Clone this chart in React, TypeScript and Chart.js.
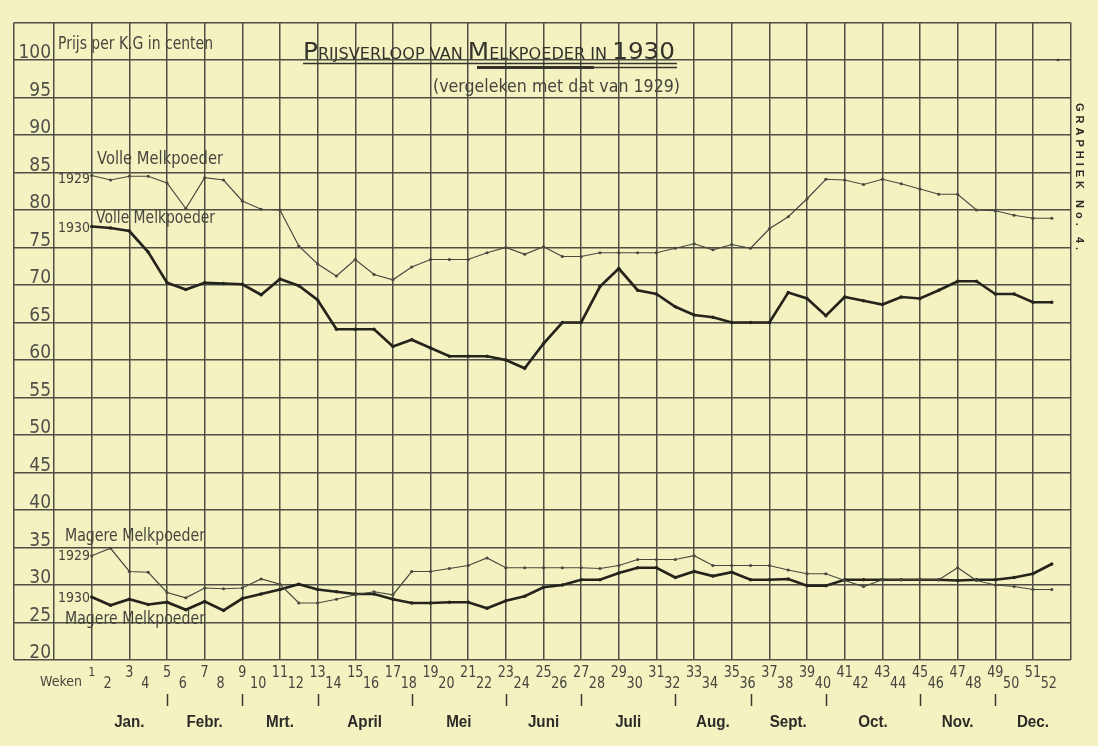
import React, { useEffect, useRef } from "react";
import { Chart, registerables } from "chart.js";

Chart.register(...registerables);

// ---- data ----
const weeks = [
  1, 2, 3, 4, 5, 6, 7, 8, 9, 10, 11, 12, 13, 14, 15, 16, 17, 18, 19, 20, 21, 22, 23, 24, 25, 26,
  27, 28, 29, 30, 31, 32, 33, 34, 35, 36, 37, 38, 39, 40, 41, 42, 43, 44, 45, 46, 47, 48, 49, 50, 51, 52,
];

const volle1929 = [
  84.6, 84.0, 84.5, 84.5, 83.6, 80.2, 84.3, 84.0, 81.2, 80.1,
  80.0, 75.2, 72.8, 71.2, 73.4, 71.4, 70.7, 72.4, 73.4, 73.4,
  73.4, 74.3, 75.0, 74.1, 75.1, 73.8, 73.8, 74.3, 74.3, 74.3,
  74.3, 74.9, 75.5, 74.7, 75.4, 74.9, 77.5, 79.1, 81.5, 84.1,
  84.0, 83.4, 84.1, 83.5, 82.8, 82.1, 82.1, 80.0, 79.9, 79.3,
  78.9, 78.9,
];

const volle1930 = [
  77.8, 77.6, 77.2, 74.4, 70.3, 69.4, 70.3, 70.2, 70.1, 68.7,
  70.8, 69.9, 68.0, 64.1, 64.1, 64.1, 61.8, 62.7, 61.6, 60.5,
  60.5, 60.5, 60.0, 58.9, 62.2, 65.0, 65.0, 69.8, 72.2, 69.3,
  68.8, 67.1, 66.0, 65.7, 65.0, 65.0, 65.0, 69.0, 68.2, 65.9,
  68.4, 67.9, 67.4, 68.4, 68.2, 69.3, 70.5, 70.5, 68.8, 68.8,
  67.7, 67.7,
];

const magere1929 = [
  33.9, 34.9, 31.8, 31.7, 29.0, 28.3, 29.6, 29.5, 29.6, 30.8,
  30.1, 27.6, 27.6, 28.1, 28.7, 29.1, 28.7, 31.8, 31.8, 32.2,
  32.6, 33.6, 32.3, 32.3, 32.3, 32.3, 32.3, 32.2, 32.6, 33.4,
  33.4, 33.4, 33.9, 32.6, 32.6, 32.6, 32.6, 32.0, 31.5, 31.5,
  30.6, 29.8, 30.7, 30.7, 30.7, 30.7, 32.3, 30.6, 30.0, 29.8,
  29.4, 29.4,
];

const magere1930 = [
  28.4, 27.3, 28.1, 27.4, 27.7, 26.7, 27.8, 26.6, 28.2, 28.8,
  29.4, 30.1, 29.4, 29.1, 28.8, 28.8, 28.1, 27.6, 27.6, 27.7,
  27.7, 26.9, 27.9, 28.5, 29.7, 30.0, 30.7, 30.7, 31.6, 32.3,
  32.3, 31.0, 31.8, 31.2, 31.7, 30.7, 30.7, 30.8, 29.9, 29.9,
  30.7, 30.7, 30.7, 30.7, 30.7, 30.7, 30.6, 30.7, 30.7, 31.0,
  31.5, 32.8,
];

const yTickLabels = ["20", "25", "30", "35", "40", "45", "50", "55", "60", "65", "70", "75", "80", "85", "90", "95", "100"];
const monthLabels = ["Jan.", "Febr.", "Mrt.", "April", "Mei", "Juni", "Juli", "Aug.", "Sept.", "Oct.", "Nov.", "Dec."];
const monthStartWeeks = [1, 5, 9, 13, 18, 23, 27, 32, 36, 40, 45, 49, 53];

// ---- styling ----
const PAPER = "#f5f2c2";
const GRID = "#4e4e44";
const INK = "#45453d";
const HAND = "DejaVu Sans";

type Ctx = CanvasRenderingContext2D;

function fitText(ctx: Ctx, s: string, x: number, y: number, w: number, size: number, color = INK, weight = "normal", family = HAND) {
  ctx.save();
  ctx.font = `${weight} ${size}px "${family}"`;
  const m = ctx.measureText(s).width;
  const sx = w / m;
  ctx.translate(x, y);
  ctx.scale(sx, 1);
  ctx.textAlign = "left";
  ctx.textBaseline = "middle";
  ctx.fillStyle = color;
  ctx.fillText(s, 0, 0);
  ctx.restore();
}

function scaledText(ctx: Ctx, s: string, x: number, y: number, size: number, sx: number, align: CanvasTextAlign, baseline: CanvasTextBaseline, color = INK, weight = "normal", family = HAND) {
  ctx.save();
  ctx.translate(x, y);
  ctx.scale(sx, 1);
  ctx.font = `${weight} ${size}px "${family}"`;
  ctx.textAlign = align;
  ctx.textBaseline = baseline;
  ctx.fillStyle = color;
  ctx.fillText(s, 0, 0);
  ctx.restore();
}

function drawSmallCaps(ctx: Ctx, parts: { t: string; s: number }[], x: number, baseline: number, w: number) {
  ctx.save();
  let total = 0;
  for (const p of parts) {
    ctx.font = `${p.s}px "${HAND}"`;
    total += ctx.measureText(p.t).width;
  }
  const sx = w / total;
  ctx.translate(x, baseline);
  ctx.scale(sx, 1);
  ctx.textBaseline = "alphabetic";
  ctx.textAlign = "left";
  ctx.fillStyle = "#33332b";
  let cx = 0;
  for (const p of parts) {
    ctx.font = `${p.s}px "${HAND}"`;
    ctx.fillText(p.t, cx, 0);
    cx += ctx.measureText(p.t).width;
  }
  ctx.restore();
}

const paperPlugin = {
  id: "paper",
  beforeDraw(chart: any) {
    const ctx: Ctx = chart.ctx;
    ctx.save();
    ctx.fillStyle = PAPER;
    ctx.fillRect(0, 0, chart.width, chart.height);
    ctx.restore();
  },
};

const annotPlugin = {
  id: "annot",
  afterDraw(chart: any) {
    const ctx: Ctx = chart.ctx;
    const xs = chart.scales.x;
    const ys = chart.scales.y;

    // y-axis labels, sitting just above their grid lines
    yTickLabels.forEach((lab) => {
      const py = ys.getPixelForValue(Number(lab));
      scaledText(ctx, lab, xs.getPixelForValue(-1) - 3, py - 2, 19, 0.9, "right", "alphabetic", "#50504a");
    });

    // heading texts
    fitText(ctx, "Prijs per K.G in centen", 58, 45, 155, 17);
    drawSmallCaps(
      ctx,
      [
        { t: "P", s: 23 },
        { t: "RIJSVERLOOP VAN ", s: 15 },
        { t: "M", s: 23 },
        { t: "ELKPOEDER IN ", s: 15 },
        { t: "1930", s: 23 },
      ],
      303,
      59,
      372
    );
    ctx.save();
    ctx.strokeStyle = "#33332b";
    ctx.lineWidth = 1.5;
    ctx.beginPath();
    ctx.moveTo(303, 63.5);
    ctx.lineTo(677, 63.5);
    ctx.moveTo(593, 67.5);
    ctx.lineTo(677, 67.5);
    ctx.stroke();
    ctx.lineWidth = 3;
    ctx.beginPath();
    ctx.moveTo(477, 67.5);
    ctx.lineTo(594, 67.5);
    ctx.stroke();
    ctx.restore();
    fitText(ctx, "(vergeleken met dat van 1929)", 433, 88, 247, 17);

    // series labels
    fitText(ctx, "Volle Melkpoeder", 97, 160, 126, 17);
    fitText(ctx, "1929", 58, 179, 32, 14);
    fitText(ctx, "Volle Melkpoeder", 96, 219, 119, 17);
    fitText(ctx, "1930", 58, 228, 32, 14);
    fitText(ctx, "Magere Melkpoeder", 65, 537, 140, 17);
    fitText(ctx, "1929", 58, 556, 32, 14);
    fitText(ctx, "1930", 58, 598, 32, 14);
    fitText(ctx, "Magere Melkpoeder", 65, 620, 140, 17);

    // week numbers
    fitText(ctx, "Weken", 40, 682, 42, 14);
    weeks.forEach((w) => {
      const px = xs.getPixelForValue(w);
      if (w % 2 === 1) {
        const s = w === 1 ? 13 : 15;
        scaledText(ctx, String(w), px, 673, s, 0.85, "center", "middle");
      } else {
        scaledText(ctx, String(w), px - 3, 684, 15, 0.85, "center", "middle");
      }
    });

    // month separators and labels
    ctx.save();
    ctx.strokeStyle = "#3a3a33";
    ctx.lineWidth = 1.5;
    for (let i = 1; i < monthStartWeeks.length - 1; i++) {
      const px = Math.round(xs.getPixelForValue(monthStartWeeks[i])) + 0.5;
      ctx.beginPath();
      ctx.moveTo(px, 694);
      ctx.lineTo(px, 706);
      ctx.stroke();
    }
    ctx.restore();
    monthLabels.forEach((m, i) => {
      const mid = (monthStartWeeks[i] + monthStartWeeks[i + 1]) / 2;
      scaledText(ctx, m, xs.getPixelForValue(mid), 723, 16, 0.95, "center", "middle", "#2b2b27", "bold", "Liberation Sans");
    });

    // side caption
    ctx.save();
    ctx.translate(1079, 103);
    ctx.rotate(Math.PI / 2);
    ctx.font = `bold 11px "Liberation Sans"`;
    (ctx as any).letterSpacing = "4px";
    ctx.fillStyle = "#2b2b27";
    ctx.textBaseline = "middle";
    ctx.textAlign = "left";
    ctx.fillText("GRAPHIEK No. 4.", 0, 0);
    ctx.restore();

    // small mark near top right
    ctx.save();
    ctx.fillStyle = "#3a3a33";
    ctx.beginPath();
    ctx.arc(1058, 60, 1.3, 0, Math.PI * 2);
    ctx.fill();
    ctx.restore();
  },
};

function toPoints(vals: number[]) {
  return weeks.map((w, i) => ({ x: w, y: vals[i] }));
}

export default function App() {
  const ref = useRef<HTMLCanvasElement | null>(null);

  useEffect(() => {
    if (!ref.current) return;
    const thin = {
      borderColor: "#48483f",
      backgroundColor: "#48483f",
      borderWidth: 1.2,
      pointRadius: 1.6,
      pointBorderWidth: 0,
      tension: 0,
    };
    const thick = {
      borderColor: "#24241d",
      backgroundColor: "#24241d",
      borderWidth: 2.7,
      pointRadius: 1.7,
      pointBorderWidth: 0,
      tension: 0,
    };
    const chart = new Chart(ref.current, {
      type: "line",
      data: {
        datasets: [
          { label: "Volle Melkpoeder 1929", data: toPoints(volle1929), ...thin },
          { label: "Volle Melkpoeder 1930", data: toPoints(volle1930), ...thick },
          { label: "Magere Melkpoeder 1929", data: toPoints(magere1929), ...thin },
          { label: "Magere Melkpoeder 1930", data: toPoints(magere1930), ...thick },
        ],
      },
      options: {
        responsive: false,
        maintainAspectRatio: false,
        devicePixelRatio: 1,
        animation: false,
        events: [],
        layout: { padding: { left: 13.6, right: 27.4, top: 22.5, bottom: 86 } },
        plugins: { legend: { display: false }, tooltip: { enabled: false } },
        scales: {
          x: {
            type: "linear",
            min: -3.15,
            max: 53,
            afterBuildTicks: (s: any) => {
              const t = [{ value: -3.15 }];
              for (let v = -1; v <= 53; v += 2) t.push({ value: v });
              s.ticks = t;
            },
            ticks: { display: false },
            grid: { color: GRID, lineWidth: 1.5, drawTicks: false },
            border: { display: false },
          },
          y: {
            type: "linear",
            min: 20,
            max: 105,
            ticks: { display: false, stepSize: 5 },
            grid: { color: GRID, lineWidth: 1.5, drawTicks: false },
            border: { display: false },
          },
        },
      },
      plugins: [paperPlugin, annotPlugin],
    } as any);
    return () => chart.destroy();
  }, []);

  return (
    <div style={{ position: "absolute", left: 0, top: 0, width: 1098, height: 746, background: PAPER }}>
      <canvas ref={ref} width={1098} height={746} style={{ display: "block" }} />
    </div>
  );
}
